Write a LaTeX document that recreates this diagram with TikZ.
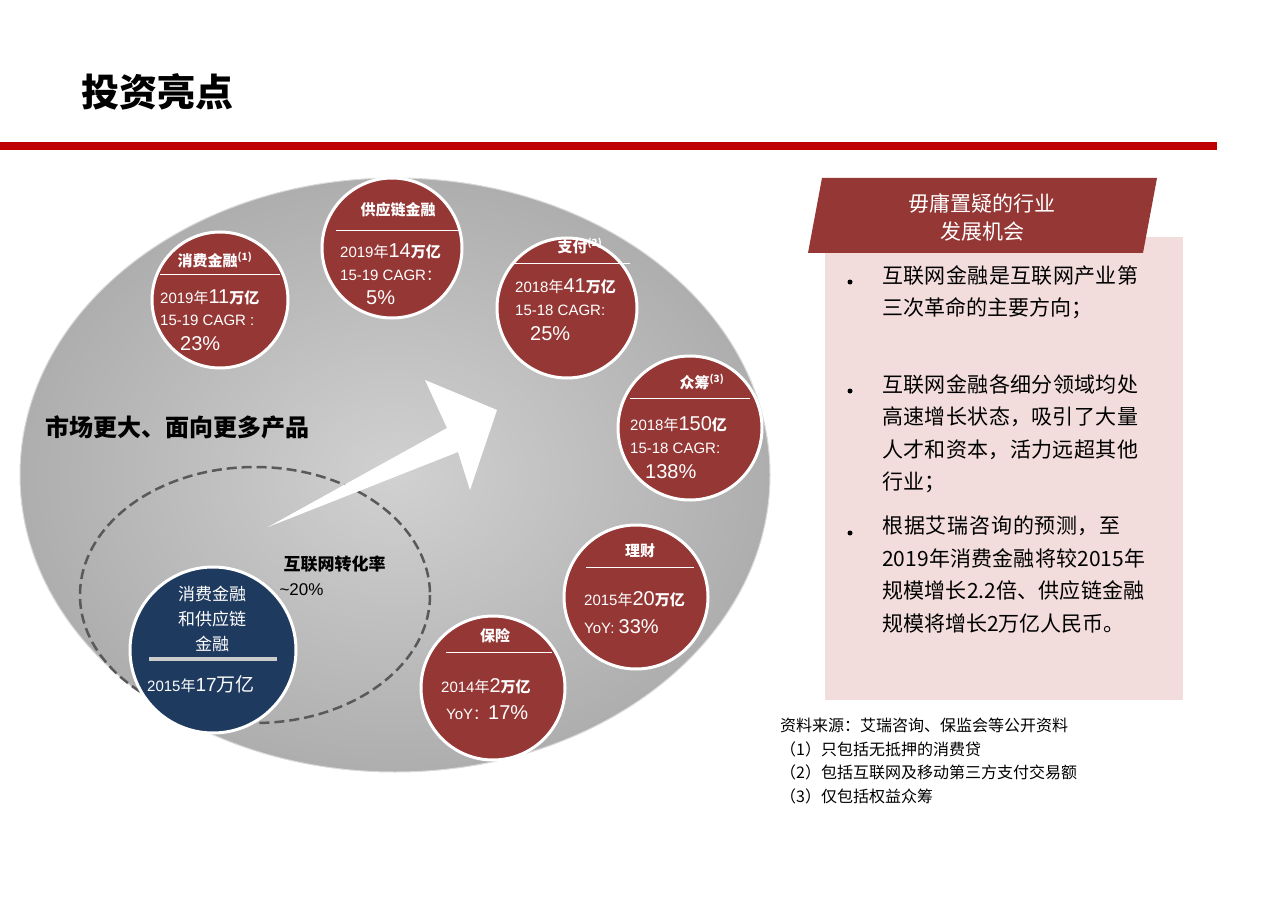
\documentclass[tikz,border=0pt]{standalone}
\usepackage{fontspec}
\setmainfont{Liberation Sans}
\newfontfamily\cjk{Noto Sans CJK SC}
\XeTeXlinebreaklocale "zh"
\XeTeXlinebreakskip=0pt plus 1pt
\usetikzlibrary{calc}
\definecolor{dred}{HTML}{953735}
\definecolor{lred}{HTML}{C00000}
\definecolor{navy}{HTML}{1F3A5F}
\definecolor{pinkbg}{HTML}{F2DCDC}
\definecolor{ellgray}{HTML}{BDBDBD}
\tikzset{
 bub/.style={circle,fill=dred,draw=white,line width=3pt,minimum size=#1},
 wt/.style={text=white,align=center,inner sep=0pt},
 hd/.style={wt,font=\cjk\bfseries\fontsize{15}{17}\selectfont},
 bl/.style={text=white,anchor=west,inner sep=0pt,font=\fontsize{15}{18}\selectfont},
 btxt/.style={anchor=north west,inner sep=0pt,text width=272pt,align=left,font=\cjk\fontsize{21}{32.5}\selectfont},
 dot/.style={circle,fill=black,inner sep=0pt,minimum size=5pt},
}
\begin{document}
\begin{tikzpicture}[x=1pt,y=-1pt]
\useasboundingbox (0,0) rectangle (1280,904);
\fill[white] (0,0) rectangle (1280,904);
\node[anchor=west,font=\cjk\bfseries\fontsize{38}{40}\selectfont] (title) at (78,92) {投资亮点};
\fill[lred] (0,142) rectangle (1217,150);
% big ellipse
\shade[inner color=ellgray!70, outer color=ellgray!92!black] (395,475) ellipse [x radius=375,y radius=297];
\draw[white!70!gray,line width=1pt] (395,475) ellipse [x radius=375,y radius=297];
\draw[gray!70!black,line width=2.5pt,dash pattern=on 10pt off 5pt] (255,595) ellipse [x radius=175,y radius=128];
% arrow
\fill[white] (268,527) -- (447,428) -- (425,380) -- (497,410) -- (470,490) -- (458,452) -- cycle;
\node[anchor=west,font=\cjk\bfseries\fontsize{24}{26}\selectfont] (mkt) at (42,427) {市场更大、面向更多产品};
\node[anchor=west,font=\cjk\bfseries\fontsize{17}{19}\selectfont] (conv) at (280,564) {互联网转化率};
\node[anchor=west,font=\fontsize{17}{19}\selectfont] (pct) at (276,590) {\textasciitilde 20\%};
% circles
\node[bub=136pt] (c1) at (220,300) {};
\node[hd] at (215,260) {消费金融\textsuperscript{\fontsize{10}{10}\selectfont(1)}};
\draw[white] (160,274) -- (280,274);
\node[bl] at (160,297) {2019{\cjk 年}\fontsize{20}{22}\selectfont 11\fontsize{15}{17}\selectfont{\cjk\bfseries 万亿}};
\node[bl] at (160,320) {15-19 CAGR :};
\node[bl,font=\fontsize{20}{22}\selectfont] at (180,344) {23\%};

\node[bub=140pt] (c2) at (392,248) {};
\node[hd] at (398,210) {供应链金融};
\draw[white] (336,230) -- (460,230);
\node[bl] at (340,251) {2019{\cjk 年}\fontsize{20}{22}\selectfont 14\fontsize{15}{17}\selectfont{\cjk\bfseries 万亿}};
\node[bl] at (340,275) {15-19 CAGR{\cjk ：}};
\node[bl,font=\fontsize{20}{22}\selectfont] at (366,298) {5\%};

\node[bub=140pt] (c3) at (567,308) {};
\node[hd] at (580,246) {支付\textsuperscript{\fontsize{10}{10}\selectfont(2)}};
\draw[white] (512,263) -- (630,263);
\node[bl] at (515,286) {2018{\cjk 年}\fontsize{20}{22}\selectfont 41\fontsize{15}{17}\selectfont{\cjk\bfseries 万亿}};
\node[bl] at (515,310) {15-18 CAGR:};
\node[bl,font=\fontsize{20}{22}\selectfont] at (530,334) {25\%};

\node[bub=144pt] (c4) at (690,428) {};
\node[hd] at (702,382) {众筹\textsuperscript{\fontsize{10}{10}\selectfont(3)}};
\draw[white] (630,398) -- (750,398);
\node[bl] at (630,424) {2018{\cjk 年}\fontsize{20}{22}\selectfont 150\fontsize{15}{17}\selectfont{\cjk\bfseries 亿}};
\node[bl] at (630,448) {15-18 CAGR:};
\node[bl,font=\fontsize{20}{22}\selectfont] at (645,472) {138\%};

\node[bub=144pt] (c5) at (636,597) {};
\node[hd] at (640,551) {理财};
\draw[white] (586,567) -- (694,567);
\node[bl] at (584,599) {2015{\cjk 年}\fontsize{20}{22}\selectfont 20\fontsize{15}{17}\selectfont{\cjk\bfseries 万亿}};
\node[bl] at (584,627) {YoY: \fontsize{20}{22}\selectfont 33\%};

\node[bub=144pt] (c6) at (493,688) {};
\node[hd] at (495,636) {保险};
\draw[white] (446,652) -- (552,652);
\node[bl] at (441,686) {2014{\cjk 年}\fontsize{20}{22}\selectfont 2\fontsize{15}{17}\selectfont{\cjk\bfseries 万亿}};
\node[bl] at (446,713) {YoY{\cjk ：}\fontsize{20}{22}\selectfont 17\%};

\node[circle,fill=navy,draw=white,line width=3pt,minimum size=166pt] (c7) at (213,650) {};
\node[wt,font=\cjk\fontsize{17}{25}\selectfont] at (212,619) {消费金融\\和供应链\\金融};
\draw[gray!40,line width=4pt] (149,659) -- (277,659);
\node[bl] at (147,684) {2015{\cjk 年}\fontsize{19}{21}\selectfont 17{\cjk 万亿}};
% right panel
\fill[pinkbg] (825,237) rectangle (1183,700);
\fill[dred] (822,178) -- (1157,178) -- (1143,253) -- (808,253) -- cycle;
\node[wt,font=\cjk\fontsize{21}{28}\selectfont] (hdr) at (982,217) {毋庸置疑的行业\\发展机会};
\node[dot] (d1) at (850,282) {};
\node[btxt] (b1) at (882,265) {互联网金融是互联网产业第三次革命的主要方向；};
\node[dot] (d2) at (850,391) {};
\node[btxt] (b2) at (882,374) {互联网金融各细分领域均处高速增长状态，吸引了大量人才和资本，活力远超其他行业；};
\node[dot] (d3) at (850,533) {};
\node[btxt] (b3) at (882,516) {根据艾瑞咨询的预测，至2019年消费金融将较2015年规模增长2.2倍、供应链金融规模将增长2万亿人民币。};
\node[anchor=north west,inner sep=0pt,align=left,font=\cjk\fontsize{16}{23.5}\selectfont] (src) at (780,718) {资料来源：艾瑞咨询、保监会等公开资料\\（1）只包括无抵押的消费贷\\（2）包括互联网及移动第三方支付交易额\\（3）仅包括权益众筹};
\end{tikzpicture}
\end{document}
